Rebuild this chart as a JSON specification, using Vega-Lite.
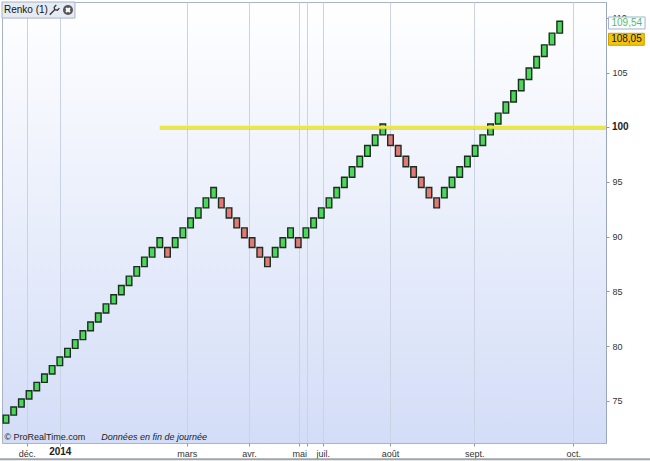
{
  "$schema": "https://vega.github.io/schema/vega-lite/v6.json",
  "width": 604,
  "height": 441,
  "autosize": {"type": "none"},
  "padding": {"left": 2, "top": 2, "right": 44, "bottom": 18},
  "background": "white",
  "config": {
    "font": "Liberation Sans",
    "view": {
      "stroke": "#a9b3c6",
      "strokeWidth": 1,
      "fill": {"gradient": "linear", "x1": 0, "y1": 0, "x2": 0, "y2": 1, "stops": [{"offset": 0, "color": "#ffffff"}, {"offset": 1, "color": "#d3ddf7"}]}
    },
    "scale": {"continuousPadding": 0}
  },
  "datasets": {
    "bricks": [
      {"i": 0, "open": 72.95, "close": 73.68, "dir": "up"},
      {"i": 1, "open": 73.68, "close": 74.42, "dir": "up"},
      {"i": 2, "open": 74.42, "close": 75.16, "dir": "up"},
      {"i": 3, "open": 75.16, "close": 75.91, "dir": "up"},
      {"i": 4, "open": 75.91, "close": 76.67, "dir": "up"},
      {"i": 5, "open": 76.67, "close": 77.44, "dir": "up"},
      {"i": 6, "open": 77.44, "close": 78.21, "dir": "up"},
      {"i": 7, "open": 78.21, "close": 78.99, "dir": "up"},
      {"i": 8, "open": 78.99, "close": 79.78, "dir": "up"},
      {"i": 9, "open": 79.78, "close": 80.58, "dir": "up"},
      {"i": 10, "open": 80.58, "close": 81.39, "dir": "up"},
      {"i": 11, "open": 81.39, "close": 82.20, "dir": "up"},
      {"i": 12, "open": 82.20, "close": 83.02, "dir": "up"},
      {"i": 13, "open": 83.02, "close": 83.85, "dir": "up"},
      {"i": 14, "open": 83.85, "close": 84.69, "dir": "up"},
      {"i": 15, "open": 84.69, "close": 85.54, "dir": "up"},
      {"i": 16, "open": 85.54, "close": 86.39, "dir": "up"},
      {"i": 17, "open": 86.39, "close": 87.26, "dir": "up"},
      {"i": 18, "open": 87.26, "close": 88.13, "dir": "up"},
      {"i": 19, "open": 88.13, "close": 89.01, "dir": "up"},
      {"i": 20, "open": 89.01, "close": 89.90, "dir": "up"},
      {"i": 21, "open": 89.01, "close": 88.13, "dir": "down"},
      {"i": 22, "open": 89.01, "close": 89.90, "dir": "up"},
      {"i": 23, "open": 89.90, "close": 90.80, "dir": "up"},
      {"i": 24, "open": 90.80, "close": 91.71, "dir": "up"},
      {"i": 25, "open": 91.71, "close": 92.63, "dir": "up"},
      {"i": 26, "open": 92.63, "close": 93.55, "dir": "up"},
      {"i": 27, "open": 93.55, "close": 94.49, "dir": "up"},
      {"i": 28, "open": 93.55, "close": 92.63, "dir": "down"},
      {"i": 29, "open": 92.63, "close": 91.71, "dir": "down"},
      {"i": 30, "open": 91.71, "close": 90.80, "dir": "down"},
      {"i": 31, "open": 90.80, "close": 89.90, "dir": "down"},
      {"i": 32, "open": 89.90, "close": 89.01, "dir": "down"},
      {"i": 33, "open": 89.01, "close": 88.13, "dir": "down"},
      {"i": 34, "open": 88.13, "close": 87.26, "dir": "down"},
      {"i": 35, "open": 88.13, "close": 89.01, "dir": "up"},
      {"i": 36, "open": 89.01, "close": 89.90, "dir": "up"},
      {"i": 37, "open": 89.90, "close": 90.80, "dir": "up"},
      {"i": 38, "open": 89.90, "close": 89.01, "dir": "down"},
      {"i": 39, "open": 89.90, "close": 90.80, "dir": "up"},
      {"i": 40, "open": 90.80, "close": 91.71, "dir": "up"},
      {"i": 41, "open": 91.71, "close": 92.63, "dir": "up"},
      {"i": 42, "open": 92.63, "close": 93.55, "dir": "up"},
      {"i": 43, "open": 93.55, "close": 94.49, "dir": "up"},
      {"i": 44, "open": 94.49, "close": 95.43, "dir": "up"},
      {"i": 45, "open": 95.43, "close": 96.39, "dir": "up"},
      {"i": 46, "open": 96.39, "close": 97.35, "dir": "up"},
      {"i": 47, "open": 97.35, "close": 98.33, "dir": "up"},
      {"i": 48, "open": 98.33, "close": 99.31, "dir": "up"},
      {"i": 49, "open": 99.31, "close": 100.30, "dir": "up"},
      {"i": 50, "open": 99.31, "close": 98.33, "dir": "down"},
      {"i": 51, "open": 98.33, "close": 97.35, "dir": "down"},
      {"i": 52, "open": 97.35, "close": 96.39, "dir": "down"},
      {"i": 53, "open": 96.39, "close": 95.43, "dir": "down"},
      {"i": 54, "open": 95.43, "close": 94.49, "dir": "down"},
      {"i": 55, "open": 94.49, "close": 93.55, "dir": "down"},
      {"i": 56, "open": 93.55, "close": 92.63, "dir": "down"},
      {"i": 57, "open": 93.55, "close": 94.49, "dir": "up"},
      {"i": 58, "open": 94.49, "close": 95.43, "dir": "up"},
      {"i": 59, "open": 95.43, "close": 96.39, "dir": "up"},
      {"i": 60, "open": 96.39, "close": 97.35, "dir": "up"},
      {"i": 61, "open": 97.35, "close": 98.33, "dir": "up"},
      {"i": 62, "open": 98.33, "close": 99.31, "dir": "up"},
      {"i": 63, "open": 99.31, "close": 100.30, "dir": "up"},
      {"i": 64, "open": 100.30, "close": 101.30, "dir": "up"},
      {"i": 65, "open": 101.30, "close": 102.32, "dir": "up"},
      {"i": 66, "open": 102.32, "close": 103.34, "dir": "up"},
      {"i": 67, "open": 103.34, "close": 104.37, "dir": "up"},
      {"i": 68, "open": 104.37, "close": 105.42, "dir": "up"},
      {"i": 69, "open": 105.42, "close": 106.47, "dir": "up"},
      {"i": 70, "open": 106.47, "close": 107.54, "dir": "up"},
      {"i": 71, "open": 107.54, "close": 108.61, "dir": "up"},
      {"i": 72, "open": 108.61, "close": 109.70, "dir": "up"}
    ],
    "trend": [{"start": 20, "end": 78.02, "level": 100}],
    "last": [{"label": "109,54", "v": 109.54}],
    "close": [{"label": "108,05", "v": 108.05}]
  },
  "layer": [
    {
      "data": {"name": "bricks"},
      "mark": {"type": "bar", "width": 5.6, "stroke": "#1b2e1e", "strokeWidth": 1.4},
      "encoding": {
        "x": {
          "field": "i", "type": "quantitative", "title": null,
          "scale": {"domain": [-0.52, 78.02], "nice": false, "zero": false, "padding": 0},
          "axis": {
            "values": [2.69, 7.06, 23.5, 31.6, 38.14, 39.14, 41.18, 49.94, 60.9, 73.77],
            "labelExpr": "['déc.','','mars','avr.','mai','','juil.','août','sept.','oct.'][indexof([2.69,7.06,23.5,31.6,38.14,39.14,41.18,49.94,60.9,73.77], datum.value)]",
            "labelFont": "Liberation Sans", "labelFontSize": 9, "labelColor": "#333333",
            "grid": true, "gridColor": "#cad3e4", "gridWidth": 1,
            "domain": false, "tickColor": "#8c97ab", "tickSize": 3,
            "labelPadding": 3, "labelOverlap": false, "labelFlush": false
          }
        },
        "y": {
          "field": "open", "type": "quantitative", "title": null,
          "scale": {"domain": [71.13, 111.46], "nice": false, "zero": false, "padding": 0},
          "axis": {
            "orient": "right",
            "values": [75, 80, 85, 90, 95, 100, 105, 110],
            "labelExpr": "datum.value == 100 ? '' : datum.label",
            "labelFont": "Liberation Sans", "labelFontSize": 9, "labelColor": "#333333",
            "grid": false, "domain": true, "domainColor": "#9aa6bb",
            "tickColor": "#8c97ab", "tickSize": 3, "labelPadding": 3
          }
        },
        "y2": {"field": "close"},
        "fill": {"field": "dir", "type": "nominal", "scale": {"domain": ["up", "down"], "range": ["#4cd65b", "#e47878"]}, "legend": null}
      }
    },
    {
      "data": {"values": [{"label": "2014", "pos": 7.06}]},
      "mark": {"type": "text", "fontSize": 10, "fontWeight": "bold", "color": "#222222", "align": "center", "baseline": "middle"},
      "encoding": {
        "x": {"field": "pos", "type": "quantitative"},
        "y": {"datum": 70.3, "type": "quantitative"},
        "text": {"field": "label"}
      }
    },
    {
      "data": {"values": [{"label": "100", "v": 100}]},
      "mark": {"type": "text", "fontSize": 10, "fontWeight": "bold", "color": "#222222", "align": "left", "baseline": "middle"},
      "encoding": {
        "x": {"datum": 78.8, "type": "quantitative"},
        "y": {"field": "v", "type": "quantitative"},
        "text": {"field": "label"}
      }
    },
    {
      "data": {"name": "trend"},
      "mark": {"type": "rule", "stroke": "#a8a890", "strokeWidth": 3, "opacity": 0.4, "yOffset": 1.2},
      "encoding": {
        "x": {"field": "start", "type": "quantitative"},
        "x2": {"field": "end"},
        "y": {"field": "level", "type": "quantitative"}
      }
    },
    {
      "data": {"name": "trend"},
      "mark": {"type": "rule", "stroke": "#ece83c", "strokeWidth": 3},
      "encoding": {
        "x": {"field": "start", "type": "quantitative"},
        "x2": {"field": "end"},
        "y": {"field": "level", "type": "quantitative"}
      }
    },
    {
      "data": {"name": "last"},
      "mark": {"type": "bar", "size": 12, "fill": "#ffffff", "stroke": "#9fb4cc", "strokeWidth": 1},
      "encoding": {
        "x": {"datum": 78.35, "type": "quantitative"},
        "x2": {"datum": 83.1},
        "y": {"field": "v", "type": "quantitative"}
      }
    },
    {
      "data": {"name": "last"},
      "mark": {"type": "text", "fontSize": 10, "color": "#55bb66", "align": "center", "baseline": "middle"},
      "encoding": {
        "x": {"datum": 80.72, "type": "quantitative"},
        "y": {"field": "v", "type": "quantitative"},
        "text": {"field": "label"}
      }
    },
    {
      "data": {"name": "close"},
      "mark": {"type": "bar", "size": 12, "fill": "#f2c410", "stroke": "#c9a000", "strokeWidth": 1},
      "encoding": {
        "x": {"datum": 78.35, "type": "quantitative"},
        "x2": {"datum": 83.0},
        "y": {"field": "v", "type": "quantitative"}
      }
    },
    {
      "data": {"name": "close"},
      "mark": {"type": "text", "fontSize": 10, "color": "#111111", "align": "center", "baseline": "middle"},
      "encoding": {
        "x": {"datum": 80.68, "type": "quantitative"},
        "y": {"field": "v", "type": "quantitative"},
        "text": {"field": "label"}
      }
    },
    {
      "data": {"values": [{"t": "Renko (1)"}]},
      "mark": {"type": "rect", "fill": "#e6ebf3", "stroke": "#a9b3c6", "strokeWidth": 1},
      "encoding": {
        "x": {"datum": -0.52, "type": "quantitative"},
        "x2": {"datum": 8.97},
        "y": {"datum": 111.46, "type": "quantitative"},
        "y2": {"datum": 109.99}
      }
    },
    {
      "data": {"values": [{"t": "Renko (1)"}]},
      "mark": {"type": "text", "fontSize": 10, "color": "#111111", "align": "left", "baseline": "middle"},
      "encoding": {
        "x": {"datum": -0.26, "type": "quantitative"},
        "y": {"datum": 110.73, "type": "quantitative"},
        "text": {"field": "t"}
      }
    },
    {
      "data": {"values": [{"t": "wrench"}]},
      "mark": {"type": "point", "shape": "M-0.9,0.9L0.05,-0.05M0.05,-0.05L-0.05,-0.55L0.35,-0.95M0.05,-0.05L0.55,0.05L0.95,-0.35", "size": 110, "stroke": "#333333", "strokeWidth": 1.3, "filled": false, "opacity": 1},
      "encoding": {
        "x": {"datum": 6.3, "type": "quantitative"},
        "y": {"datum": 110.73, "type": "quantitative"}
      }
    },
    {
      "data": {"values": [{"t": "close"}]},
      "mark": {"type": "point", "shape": "circle", "size": 100, "filled": true, "fill": "#555555", "opacity": 1},
      "encoding": {
        "x": {"datum": 8.06, "type": "quantitative"},
        "y": {"datum": 110.73, "type": "quantitative"}
      }
    },
    {
      "data": {"values": [{"t": "close"}]},
      "mark": {"type": "point", "shape": "cross", "angle": 45, "size": 30, "filled": true, "fill": "#ffffff", "opacity": 1},
      "encoding": {
        "x": {"datum": 8.06, "type": "quantitative"},
        "y": {"datum": 110.73, "type": "quantitative"}
      }
    },
    {
      "data": {"values": [{"t": "© ProRealTime.com"}]},
      "mark": {"type": "text", "fontSize": 9, "color": "#222222", "align": "left", "baseline": "middle"},
      "encoding": {
        "x": {"datum": -0.2, "type": "quantitative"},
        "y": {"datum": 71.68, "type": "quantitative"},
        "text": {"field": "t"}
      }
    },
    {
      "data": {"values": [{"t": "Données en fin de journée"}]},
      "mark": {"type": "text", "fontSize": 9, "fontStyle": "italic", "color": "#222222", "align": "left", "baseline": "middle"},
      "encoding": {
        "x": {"datum": 12.4, "type": "quantitative"},
        "y": {"datum": 71.68, "type": "quantitative"},
        "text": {"field": "t"}
      }
    },
    {
      "data": {"values": [{"t": "frame"}]},
      "mark": {"type": "rule", "stroke": "#a0a4aa", "strokeWidth": 2},
      "encoding": {
        "x": {"datum": -0.78, "type": "quantitative"},
        "x2": {"datum": 83.75},
        "y": {"datum": 69.65, "type": "quantitative"}
      }
    }
  ]
}
